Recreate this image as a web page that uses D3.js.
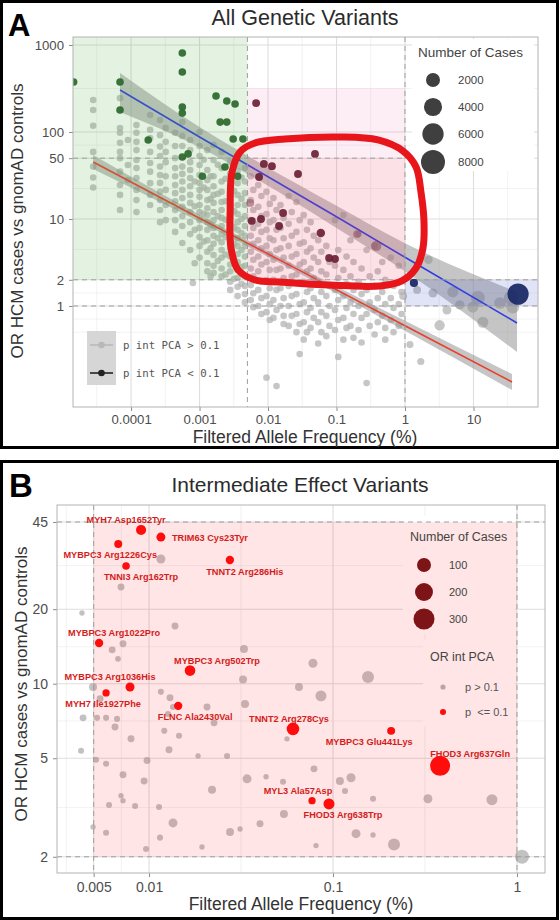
<!DOCTYPE html>
<html>
<head>
<meta charset="utf-8">
<title>HCM variants</title>
<script src="https://cdn.jsdelivr.net/npm/d3@7.9.0/dist/d3.min.js"></script>
<style>
  html, body { margin: 0; padding: 0; background: #fff; }
  svg { display: block; }
  text { font-family: "Liberation Sans", Arial, sans-serif; }
  text.mono { font-family: "DejaVu Sans Mono", monospace; }
</style>
</head>
<body>
<div id="chart"></div>
<script>
;(function () {
    // ---------- panel A: all genetic variants ----------
    var freqTicksA = [0.0001, 0.001, 0.01, 0.1, 1, 10]
    var freqTickLabelsA = ['0.0001', '0.001', '0.01', '0.1', '1', '10']
    var orTicksA = [1, 2, 10, 50, 100, 1000]
    var orTickLabelsA = ['1', '2', '10', '50', '100', '1000']
    var freqMinorA = [3.16e-5, 3.16e-4, 3.16e-3, 0.0316, 0.316, 3.16, 31.6]
    var orMinorA = [0.5, 0.707, 1.41, 4.47, 22.4, 70.7, 316]

    // non-significant variants: [allele frequency %, [OR ...]] (low-count variants line up in columns)
    var greyColsA = [
        [2.8e-5, [233, 179, 118, 59, 40, 30, 23]],
        [6.9e-5, [245, 111, 98, 75, 59, 50, 35, 24.6, 18.9, 12.7]],
        [9e-5, [81, 41.7, 28]],
        [1.2e-4, [120, 98, 77, 62, 47.6, 38.5, 29.5, 21.6, 16.5, 12]],
        [1.9e-4, [157, 106, 85, 59, 44, 35, 25.8, 18.9, 14.5]],
        [2.65e-4, [137, 92, 68, 53, 40, 32, 26, 20.5, 16.5, 12.7, 9.2]],
        [3.2e-4, [111, 77, 59, 45, 31, 21.6, 14.5, 9.7]],
        [4.4e-4, [98, 69, 50, 38.5, 31, 24.6, 19.8, 16, 12.7, 9.7, 7.1]],
        [5.6e-4, [130, 90, 69, 40, 33, 27, 21.6, 17.4, 13.8, 10.8, 8.3, 5.3]],
        [7.3e-4, [81, 62, 45, 36.6, 29.5, 23.8, 18.9, 15.3, 12, 9.2, 6.7, 4.4]],
        [8e-4, [1.84]],
        [8.5e-4, [27, 14, 7.5, 3.1]],
        [1e-3, [100, 69, 53, 41.7, 32, 26, 21.6, 18, 14.5, 12, 9.7, 7.9, 6.2, 4.9, 3.6]],
        [1.15e-3, [48, 23, 11.5, 5.5]],
        [1.3e-3, [62, 36.6, 28, 21.6, 16.5, 13.3, 11.1, 9.2, 7.5, 5.7, 4.2, 3.1, 2.5]],
        [1.45e-3, [31, 17, 8.5, 4.6, 2.2]],
        [1.6e-3, [71, 47.6, 31, 23.8, 18.9, 15.3, 12, 9.7, 7.9, 6.4, 5.2, 3.86, 2.9, 2.4]],
        [1.85e-3, [42, 19.5, 10.8, 6, 3.3]],
        [2.1e-3, [59, 38.5, 27, 20.5, 15.7, 12.7, 10.3, 8.3, 6.7, 5.4, 4.4, 3.6, 2.7, 2.2]],
        [2.4e-3, [29, 16, 9.8, 6.2, 3.9, 2.3]],
        [2.8e-3, [45, 33, 24, 18.4, 14, 11.1, 8.8, 7.1, 5.7, 4.6, 3.7, 3, 2.5, 1.9, 1.53]],
        [3.2e-3, [40, 21, 12.3, 8, 5.2, 3.4, 2.05]],
        [3.6e-3, [50, 35.6, 25.8, 18.9, 14.5, 11.4, 9.2, 7.5, 6, 4.9, 3.96, 3.2, 2.6, 2.1, 1.66, 1.3]],
        [4.1e-3, [30, 17, 10, 6.9, 4.4, 2.8, 1.8]],
        [4.6e-3, [38.5, 27, 19.8, 14.5, 10.8, 8.3, 6.4, 4.9, 3.7, 2.9, 2.2, 1.7, 1.37, 1.1]],
        [5.6e-3, [31, 16.5, 9.7, 6.4, 4.2, 2.7, 1.74, 1.17]],
        [6.1e-3, [21.6, 12.7, 7.9, 5.2, 3.4, 2.2, 1.4, 0.97]],
        [7.2e-3, [24.6, 13.8, 8.8, 5.7, 3.7, 2.5, 1.53, 1]],
        [8.0e-3, [18.4, 10.8, 7.1, 4.6, 3, 1.9, 1.23, 0.81]],
        [9.5e-3, [20.5, 11.4, 7.5, 4.9, 3.2, 1.99, 1.3, 0.85, 0.15]],
        [0.0106, [14.9, 9.2, 6, 3.96, 2.6, 1.6, 1.05, 0.69]],
        [0.012, [17.4, 9.7, 5.7, 3.4, 2, 1.17, 0.73]],
        [0.0133, [12.7, 7.5, 4.4, 2.6, 1.53, 0.9, 0.12]],
        [0.0152, [14.5, 7.9, 4.6, 2.7, 1.6, 1]],
        [0.0169, [10.3, 6, 3.6, 2.1, 1.23, 0.77, 0.62]],
        [0.02, [18.4, 8.8, 4.9, 2.9, 1.7, 1, 0.59]],
        [0.0222, [12, 6.4, 3.7, 2.2, 1.3, 0.77]],
        [0.026, [15.7, 7.1, 3.96, 2.3, 1.37, 0.81, 0.5]],
        [0.029, [9.7, 5.2, 3, 1.8, 1.05, 0.62, 0.28]],
        [0.0332, [11.1, 5.4, 3.2, 1.9, 1.1, 0.65, 0.41]],
        [0.037, [7.5, 4.2, 2.5, 1.45, 0.85, 0.5]],
        [0.0418, [9.2, 4.6, 2.7, 1.6, 0.95, 0.56]],
        [0.0465, [6.4, 3.6, 2.1, 1.23, 0.73]],
        [0.054, [5.7, 3.2, 1.9, 1.1, 0.65, 0.37]],
        [0.06, [4.2, 2.5, 1.45, 0.85, 0.5]],
        [0.071, [4.9, 2.3, 1.3, 0.77, 0.45]],
        [0.079, [3.2, 1.7, 1, 0.59]],
        [0.095, [9.7, 2.9, 1.53, 0.9, 0.53]],
        [0.106, [4.4, 2.1, 1.17, 0.69, 0.26]],
        [0.126, [11.1, 2.6, 1.3, 0.73, 0.41]],
        [0.14, [3.7, 1.8, 0.95, 0.56]],
        [0.16, [5.7, 2.2, 1.1, 0.59]],
        [0.177, [3.2, 1.53, 0.81, 0.43]],
        [0.21, [6.7, 1.9, 1, 0.53]],
        [0.232, [2.7, 1.37, 0.73, 0.38]],
        [0.275, [4.4, 1.53, 0.81, 0.13]],
        [0.305, [2.2, 1.1, 0.59]],
        [0.36, [4.9, 1.7, 0.9, 0.47]],
        [0.4, [2.5, 1.23, 0.65]],
        [0.465, [3.2, 1.45, 0.77]],
        [0.515, [2, 1.05, 0.56, 0.41]],
        [0.62, [3.6, 1.23, 0.69]],
        [0.68, [1.7, 0.95, 0.5]],
        [0.81, [2.9, 1.05, 0.59]],
        [0.89, [1.45, 0.81]]
    ]
    var greyCasesA = 140
    // common non-significant variants: [freq %, OR, cases]
    var commonPtsA = [
        [0.94, 1.3, 300], [1.18, 0.36, 200], [1.5, 1.53, 300], [1.7, 0.23, 200],
        [2.2, 3.4, 400], [2.56, 1.41, 500], [3.2, 0.6, 800], [4.1, 0.9, 500],
        [5, 1.45, 1000], [6.3, 1.03, 600], [9.8, 0.97, 1000], [11.6, 1.24, 2000],
        [13.7, 0.65, 1000], [24.4, 1.08, 1200], [35, 1.24, 2000], [37.6, 0.97, 1500]
    ]
    // p int PCA < 0.1 variants by region: [freq %, OR, cases]
    var greenPtsA = [
        [1.45e-5, 376, 260], [6.9e-5, 376, 260], [6.9e-5, 179, 260], [1.78e-4, 81, 260],
        [5.6e-4, 809, 260], [5.6e-4, 490, 260], [5.6e-4, 194, 260], [5.6e-4, 165, 260],
        [5.6e-4, 51.5, 260], [6.8e-4, 56, 260], [1.74e-3, 259, 260], [2.5e-3, 227, 260],
        [3.3e-3, 210, 260], [2e-3, 130, 260], [2.5e-3, 130, 260], [3.1e-3, 83, 260],
        [4.3e-3, 83, 260], [1.1e-3, 31, 260], [3.6e-3, 31, 260], [2.35e-3, 39.6, 260]
    ]
    var maroonPtsA = [
        [6.7e-3, 215, 300], [0.0485, 56, 300], [8.7e-3, 43, 300], [0.0114, 40.5, 300],
        [0.0274, 32.9, 300], [7.4e-3, 30.4, 300], [0.0166, 11.7, 300], [5.8e-3, 9.5, 300],
        [7.9e-3, 10, 300], [0.0145, 8.3, 300], [0.059, 6.9, 400], [0.078, 3.56, 300],
        [0.095, 3.47, 300]
    ]
    var fadedPtsA = [[0.2, 6.7, 300], [0.38, 4.9, 800], [5.5e-3, 15.3, 300]]
    var navyPtsA = [[1.35, 1.84, 350], [44.7, 1.37, 6000]]

    // regression fits: [freq %, fit OR, lower, upper]
    var fitSigA = [
        [6.9e-5, 304, 170, 477], [1e-3, 87.6, 67, 114], [7.6e-3, 34.7, 27.3, 44],
        [0.1, 10.6, 7.9, 14.2], [1, 3.63, 2.5, 5.26], [43.2, 0.638, 0.296, 1.45]
    ]
    var fitNsA = [
        [2.8e-5, 45.2, 37.6, 54.4], [1e-3, 10.2, 9.3, 11.2], [0.0293, 2.55, 2.35, 2.76],
        [1, 0.592, 0.519, 0.676], [36.5, 0.134, 0.108, 0.165]
    ]
    var sizeLegendA = [2000, 4000, 6000, 8000]
    // hand-drawn highlight around the intermediate-effect zone (freq %, OR)
    var loopA = [
        [3.9e-3, 59], [6.45e-3, 74.8], [0.0177, 83], [0.112, 87.6], [0.404, 81],
        [0.935, 60.5], [1.45, 39.6], [1.71, 20.4], [1.89, 9.7], [1.83, 4.64],
        [1.45, 2.73], [0.9, 1.94], [0.43, 1.7], [0.08, 1.74], [0.015, 1.89],
        [6.45e-3, 1.99], [3.65e-3, 2.6], [2.88e-3, 4.64], [2.8e-3, 12.7], [2.98e-3, 34.6]
    ]

    // ---------- panel B: intermediate effect variants ----------
    var freqTicksB = [0.005, 0.01, 0.1, 1]
    var freqTickLabelsB = ['0.005', '0.01', '0.1', '1']
    var orTicksB = [2, 5, 10, 20, 45]
    var orTickLabelsB = ['2', '5', '10', '20', '45']
    var freqMinorB = [0.00355, 0.00707, 0.0316, 0.316]
    var orMinorB = [3.16, 7.07, 14.1, 30]

    var sigNamesB = [
        'MYH7 Asp1652Tyr', 'TRIM63 Cys23Tyr', 'MYBPC3 Arg1226Cys', 'TNNI3 Arg162Trp',
        'TNNT2 Arg286His', 'MYBPC3 Arg1022Pro', 'MYBPC3 Arg502Trp', 'MYBPC3 Arg1036His',
        'MYH7 Ile1927Phe', 'FLNC Ala2430Val', 'TNNT2 Arg278Cys', 'MYBPC3 Glu441Lys',
        'FHOD3 Arg637Gln', 'MYL3 Ala57Asp', 'FHOD3 Arg638Trp'
    ]
    var sigFreqB = [0.00905, 0.0116, 0.0068, 0.0075, 0.0275, 0.00535, 0.0167, 0.00788,
        0.00584, 0.0144, 0.0606, 0.207, 0.382, 0.0769, 0.0951]
    var sigOrB = [41.8, 39.1, 36.7, 29.9, 31.6, 14.6, 11.3, 9.7, 9.18, 8.14, 6.57, 6.45, 4.66, 3.37, 3.27]
    var sigCasesB = [35, 23, 14, 11, 17, 17, 42, 23, 9, 17, 73, 14, 265, 9, 48]
    // [freq %, OR, cases]
    var greyPtsB = [
        [0.0116, 31.9, 23], [0.00704, 24.6, 7], [0.00432, 19.3, 1], [0.01384, 17.1, 7],
        [0.00722, 14.5, 7], [0.0063, 13.7, 7], [0.00678, 12.6, 2], [0.0328, 13.8, 14],
        [0.03243, 10.4, 14], [0.0778, 12.1, 23], [0.155, 10.65, 63], [0.0653, 9.7, 14],
        [0.086, 8.93, 47], [0.0116, 9.27, 3], [0.013, 8.77, 7], [0.0135, 8.06, 3],
        [0.02066, 8.06, 7], [0.03324, 8.29, 14], [0.02256, 6.95, 7], [0.0121, 6.45, 3],
        [0.01456, 6.16, 3], [0.01284, 5.41, 7], [0.01847, 5.11, 1], [0.02655, 5.11, 3],
        [0.0562, 5.99, 1], [0.00975, 4.9, 7], [0.00496, 9.7, 14], [0.00542, 8.69, 7],
        [0.00438, 7.28, 7], [0.00522, 7.28, 3], [0.00584, 7.28, 3], [0.0067, 7.21, 3],
        [0.00653, 6.69, 7], [0.00798, 5.99, 7], [0.01268, 7.55, 3], [0.00427, 5.36, 3],
        [0.00515, 4.93, 3], [0.00584, 4.75, 3], [0.00722, 4.29, 7], [0.0094, 4.05, 7],
        [0.022, 3.73, 14], [0.0341, 4.13, 23], [0.04325, 4.21, 1], [0.00704, 3.53, 1],
        [0.00722, 3.37, 1], [0.00606, 3.24, 3], [0.0084, 3.21, 3], [0.01133, 3.18, 3],
        [0.0135, 2.74, 23], [0.02756, 2.52, 14], [0.03124, 2.59, 1], [0.0401, 2.72, 7],
        [0.00496, 2.64, 1], [0.00584, 2.5, 3], [0.01147, 2.39, 3], [0.0194, 2.19, 1],
        [0.00963, 2.15, 3], [0.0788, 4.53, 7], [0.0535, 4.02, 3], [0.109, 4.05, 14],
        [0.1253, 4.17, 23], [0.1162, 3.69, 3], [0.165, 3.43, 3], [0.328, 3.43, 23],
        [0.731, 3.4, 47], [0.0541, 2.98, 14], [0.1334, 2.48, 23], [0.165, 2.45, 1],
        [0.0808, 2.22, 1], [0.2146, 2.24, 63], [1.065, 2.0, 100]
    ]
    var sizeLegendB = [100, 200, 300]

    // label placement (px offsets from each point), like ggrepel output
    var labelNudgeB = [[-15, -10], [49, 1], [-8, 11], [15, 11], [15, 12], [15, -10], [27, -10],
        [-20, -10], [-3, 11], [17, 11], [-4, -10], [-22, 11], [30, -12], [-14, -10], [14, 11]]

    var W = 560, H = 920
    var svg = d3.select('#chart').append('svg').attr('width', W).attr('height', H)

    var sizeA = d3.scaleSqrt().domain([0, 8000]).range([2, 12])
    var sizeB = d3.scaleSqrt().domain([0, 300]).range([2.2, 10.5])

    function frame(y0, y1) {
        svg.append('rect').attr('x', 1.5).attr('y', y0).attr('width', 556).attr('height', y1 - y0)
            .attr('fill', 'none').attr('stroke', '#000').attr('stroke-width', 3)
    }

    function panelBase(P, x, y, xMin, yMin, xMaj, yMaj, xLab, yLab, fs, pad, id) {
        var g = svg.append('g')
        g.selectAll(null).data(xMin).join('line')
            .attr('x1', x).attr('x2', x).attr('y1', P.t).attr('y2', P.b)
            .attr('stroke', '#ececec').attr('stroke-width', 0.7)
        g.selectAll(null).data(yMin).join('line')
            .attr('y1', y).attr('y2', y).attr('x1', P.l).attr('x2', P.r)
            .attr('stroke', '#ececec').attr('stroke-width', 0.7)
        g.selectAll(null).data(xMaj).join('line')
            .attr('x1', x).attr('x2', x).attr('y1', P.t).attr('y2', P.b)
            .attr('stroke', '#dedede').attr('stroke-width', 1.1)
        g.selectAll(null).data(yMaj).join('line')
            .attr('y1', y).attr('y2', y).attr('x1', P.l).attr('x2', P.r)
            .attr('stroke', '#dedede').attr('stroke-width', 1.1)

        var ax = svg.append('g').attr('transform', 'translate(0,' + P.b + ')')
            .call(d3.axisBottom(x).tickValues(xMaj).tickFormat(function (d, i) { return xLab[i] })
                .tickSize(4).tickPadding(pad))
        var ay = svg.append('g').attr('transform', 'translate(' + P.l + ',0)')
            .call(d3.axisLeft(y).tickValues(yMaj).tickFormat(function (d, i) { return yLab[i] })
                .tickSize(4).tickPadding(5))
        ;[ax, ay].forEach(function (a) {
            a.select('.domain').remove()
            a.selectAll('.tick line').attr('stroke', '#8c8c8c')
            a.selectAll('.tick text').attr('fill', '#4d4d4d').attr('font-size', fs)
        })
        svg.append('clipPath').attr('id', id).append('rect')
            .attr('x', P.l).attr('y', P.t).attr('width', P.r - P.l).attr('height', P.b - P.t)
    }

    function rectData(g, x, y, x0, x1, y0, y1, fill, op) {
        g.append('rect').attr('x', x(x0)).attr('width', x(x1) - x(x0))
            .attr('y', y(y1)).attr('height', y(y0) - y(y1))
            .attr('fill', fill).attr('opacity', op)
    }

    function dashed(g, x1, y1, x2, y2) {
        g.append('line').attr('x1', x1).attr('y1', y1).attr('x2', x2).attr('y2', y2)
            .attr('stroke', '#9e9e9e').attr('stroke-width', 1).attr('stroke-dasharray', '5,4')
    }

    function dots(g, data, x, y, size, fill, op) {
        g.selectAll(null).data(data).join('circle')
            .attr('cx', function (d) { return x(d[0]) })
            .attr('cy', function (d) { return y(d[1]) })
            .attr('r', function (d) { return size(d[2]) })
            .attr('fill', fill).attr('opacity', op)
    }

    // ================= PANEL A =================
    frame(1.5, 447.5)
    var PA = { l: 73, r: 538, t: 37, b: 407 }
    var xA = d3.scaleLog().domain([1.42e-5, 87.5]).range([PA.l, PA.r])
    var yA = d3.scaleLog().domain([0.069, 1236]).range([PA.b, PA.t])
    panelBase(PA, xA, yA, freqMinorA, orMinorA, freqTicksA, orTicksA, freqTickLabelsA, orTickLabelsA, 13.2, 4, 'clipA')

    // legend background (drawn over grid)
    svg.append('rect').attr('x', 412).attr('y', 39).attr('width', 122).attr('height', 132).attr('fill', '#fff')

    var gA = svg.append('g').attr('clip-path', 'url(#clipA)')
    var greyFlat = []
    greyColsA.forEach(function (c) {
        c[1].forEach(function (o) { greyFlat.push([c[0], o, greyCasesA]) })
    })
    dots(gA, greyFlat.concat(commonPtsA), xA, yA, sizeA, '#b3b3b3', 0.75)

    var area = d3.area().curve(d3.curveMonotoneX)
        .x(function (d) { return xA(d[0]) })
        .y0(function (d) { return yA(d[2]) })
        .y1(function (d) { return yA(d[3]) })
    var line = d3.line()
        .x(function (d) { return xA(d[0]) })
        .y(function (d) { return yA(d[1]) })
    ;[fitNsA, fitSigA].forEach(function (f) {
        gA.append('path').attr('d', area(f)).attr('fill', '#8c8c8c').attr('opacity', 0.5)
    })
    gA.append('path').attr('d', line(fitNsA)).attr('fill', 'none').attr('stroke', '#e8402c').attr('stroke-width', 1.6)
    gA.append('path').attr('d', line(fitSigA)).attr('fill', 'none').attr('stroke', '#2f3ee0').attr('stroke-width', 1.6)

    // threshold zones
    var xMaxA = xA.domain()[1], yMaxA = yA.domain()[1], xMinA = xA.domain()[0]
    rectData(gA, xA, yA, xMinA, 0.005, 2, yMaxA, 'rgb(90,175,80)', 0.17)
    rectData(gA, xA, yA, 0.005, 1, 2, 320, 'rgb(225,90,150)', 0.1)
    rectData(gA, xA, yA, 0.005, 1, 2, 50, 'rgb(255,60,60)', 0.07)
    rectData(gA, xA, yA, 1, xMaxA, 1, 2, 'rgb(70,90,200)', 0.16)

    dashed(gA, PA.l, yA(50), xA(1), yA(50))
    dashed(gA, PA.l, yA(2), PA.r, yA(2))
    dashed(gA, PA.l, yA(1), PA.r, yA(1))
    dashed(gA, xA(0.005), PA.t, xA(0.005), PA.b)
    dashed(gA, xA(1), PA.t, xA(1), PA.b)

    dots(gA, fadedPtsA, xA, yA, sizeA, '#8a4a5a', 0.55)
    dots(gA, greenPtsA, xA, yA, sizeA, '#2f6b2f', 0.95)
    dots(gA, maroonPtsA, xA, yA, sizeA, '#6e1f35', 0.92)
    dots(gA, navyPtsA, xA, yA, sizeA, '#1c2b66', 0.95)

    svg.append('rect').attr('x', PA.l).attr('y', PA.t).attr('width', PA.r - PA.l).attr('height', PA.b - PA.t)
        .attr('fill', 'none').attr('stroke', '#b3b3b3').attr('stroke-width', 1)

    // red highlight loop
    var loopLine = d3.line().curve(d3.curveCatmullRomClosed.alpha(0.5))
        .x(function (d) { return xA(d[0]) })
        .y(function (d) { return yA(d[1]) })
    svg.append('path').attr('d', loopLine(loopA)).attr('fill', 'none')
        .attr('stroke', '#e8151b').attr('stroke-width', 7).attr('stroke-linejoin', 'round')

    // size legend A
    var lgA = svg.append('g')
    lgA.append('text').attr('x', 418).attr('y', 57).attr('font-size', 13.5).attr('fill', '#444').text('Number of Cases')
    var legYA = [80, 107, 134, 162]
    sizeLegendA.forEach(function (v, i) {
        lgA.append('circle').attr('cx', 433).attr('cy', legYA[i]).attr('r', sizeA(v)).attr('fill', '#3f3f3f')
        lgA.append('text').attr('x', 458).attr('y', legYA[i] + 4).attr('font-size', 11.5).attr('fill', '#444').text(v)
    })

    // line legend A
    var klA = svg.append('g')
    klA.append('rect').attr('x', 87).attr('y', 331).attr('width', 29).attr('height', 54).attr('fill', '#d6d6d6')
    ;[[345, '#b9b9b9', 'p int PCA > 0.1'], [373, '#222', 'p int PCA < 0.1']].forEach(function (k) {
        klA.append('line').attr('x1', 90).attr('x2', 113).attr('y1', k[0]).attr('y2', k[0])
            .attr('stroke', k[1]).attr('stroke-width', 1.6)
        klA.append('circle').attr('cx', 101.5).attr('cy', k[0]).attr('r', 3.3).attr('fill', k[1])
        klA.append('text').attr('class', 'mono').attr('x', 123).attr('y', k[0] + 4).attr('font-size', 10.7)
            .attr('fill', '#555').text(k[2])
    })

    svg.append('text').attr('x', 8).attr('y', 36).attr('font-size', 31).attr('font-weight', 'bold').attr('fill', '#000').text('A')
    svg.append('text').attr('x', 305).attr('y', 25).attr('text-anchor', 'middle').attr('font-size', 21.5).attr('fill', '#2b2b2b').text('All Genetic Variants')
    svg.append('text').attr('x', 305).attr('y', 443).attr('text-anchor', 'middle').attr('font-size', 17.5).attr('fill', '#333').text('Filtered Allele Frequency (%)')
    svg.append('text').attr('transform', 'translate(23,221) rotate(-90)').attr('text-anchor', 'middle')
        .attr('font-size', 17).attr('fill', '#333').text('OR HCM cases vs gnomAD controls')

    // ================= PANEL B =================
    frame(461.5, 918.5)
    var PB = { l: 57, r: 545, t: 505, b: 873 }
    var xB = d3.scaleLog().domain([0.00316, 1.42]).range([PB.l, PB.r])
    var yB = d3.scaleLog().domain([1.72, 52.7]).range([PB.b, PB.t])
    panelBase(PB, xB, yB, freqMinorB, orMinorB, freqTicksB, orTicksB, freqTickLabelsB, orTickLabelsB, 14, 5, 'clipB')

    // legend backgrounds (under the pink zone)
    svg.append('rect').attr('x', 403).attr('y', 516).attr('width', 112).attr('height', 118).attr('fill', '#fff')
    svg.append('rect').attr('x', 423).attr('y', 640).attr('width', 92).attr('height', 86).attr('fill', '#fff')

    var gB = svg.append('g').attr('clip-path', 'url(#clipB)')
    dots(gB, greyPtsB, xB, yB, sizeB, '#9c9c9c', 0.62)
    rectData(gB, xB, yB, 0.005, 1, 2, 45, 'rgb(255,0,0)', 0.1)
    dashed(gB, PB.l, yB(45), PB.r, yB(45))
    dashed(gB, PB.l, yB(2), PB.r, yB(2))
    dashed(gB, xB(0.005), PB.t, xB(0.005), PB.b)
    dashed(gB, xB(1), PB.t, xB(1), PB.b)

    var sigPts = sigNamesB.map(function (n, i) { return [sigFreqB[i], sigOrB[i], sigCasesB[i], n, i] })
    dots(gB, sigPts, xB, yB, sizeB, '#ff0d0d', 1)
    svg.append('g').selectAll(null).data(sigPts).join('text')
        .attr('x', function (d) { return xB(d[0]) + labelNudgeB[d[4]][0] })
        .attr('y', function (d) { return yB(d[1]) + labelNudgeB[d[4]][1] + 3.3 })
        .attr('text-anchor', 'middle').attr('font-size', 9.2).attr('font-weight', 'bold')
        .attr('fill', '#d41c1c').text(function (d) { return d[3] })

    svg.append('rect').attr('x', PB.l).attr('y', PB.t).attr('width', PB.r - PB.l).attr('height', PB.b - PB.t)
        .attr('fill', 'none').attr('stroke', '#b3b3b3').attr('stroke-width', 1)

    var lgB = svg.append('g')
    lgB.append('text').attr('x', 410).attr('y', 541).attr('font-size', 12.5).attr('fill', '#444').text('Number of Cases')
    var legYB = [565, 592, 619]
    sizeLegendB.forEach(function (v, i) {
        lgB.append('circle').attr('cx', 424).attr('cy', legYB[i]).attr('r', sizeB(v)).attr('fill', '#7d1518')
        lgB.append('text').attr('x', 449).attr('y', legYB[i] + 4).attr('font-size', 11).attr('fill', '#444').text(v)
    })
    lgB.append('text').attr('x', 430).attr('y', 661).attr('font-size', 12.4).attr('fill', '#444').text('OR int PCA')
    ;[[687, '#b9a5a8', 2.6, 'p > 0.1'], [712, '#ff0d0d', 3, 'p\u00a0 <= 0.1']].forEach(function (k) {
        lgB.append('circle').attr('cx', 443).attr('cy', k[0]).attr('r', k[2]).attr('fill', k[1])
        lgB.append('text').attr('x', 465).attr('y', k[0] + 4).attr('font-size', 11).attr('fill', '#555').text(k[3])
    })

    svg.append('text').attr('x', 9).attr('y', 497).attr('font-size', 33).attr('font-weight', 'bold').attr('fill', '#000').text('B')
    svg.append('text').attr('x', 300).attr('y', 492).attr('text-anchor', 'middle').attr('font-size', 21).attr('fill', '#2b2b2b').text('Intermediate Effect Variants')
    svg.append('text').attr('x', 301).attr('y', 910).attr('text-anchor', 'middle').attr('font-size', 17.5).attr('fill', '#333').text('Filtered Allele Frequency (%)')
    svg.append('text').attr('transform', 'translate(27,684) rotate(-90)').attr('text-anchor', 'middle')
        .attr('font-size', 17).attr('fill', '#333').text('OR HCM cases vs gnomAD controls')
})()
</script>
</body>
</html>
